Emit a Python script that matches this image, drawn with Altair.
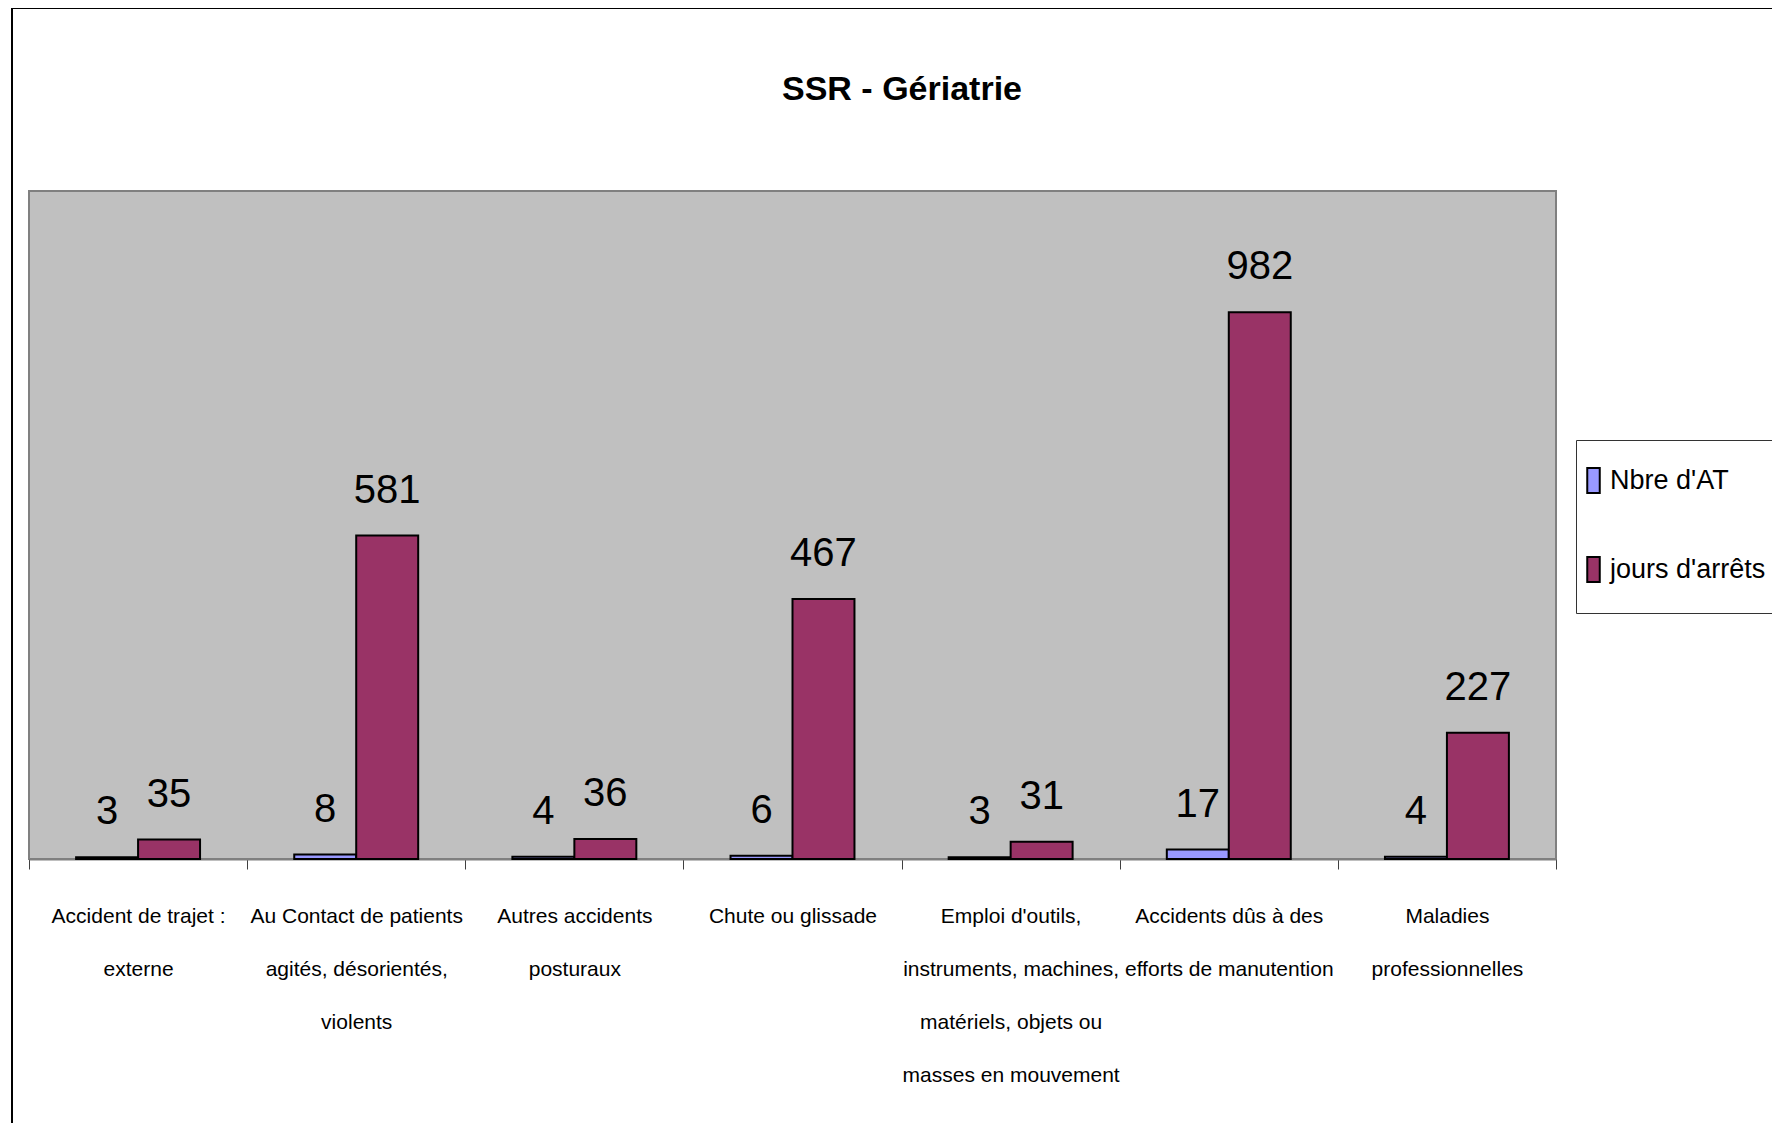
import altair as alt
import pandas as pd

FONT = "Liberation Sans, Arial, sans-serif"

title_text = "SSR - Gériatrie"
categories = [
    "Accident de trajet :\nexterne",
    "Au Contact de patients\nagités, désorientés,\nviolents",
    "Autres accidents\nposturaux",
    "Chute ou glissade",
    "Emploi d'outils,\ninstruments, machines,\nmatériels, objets ou\nmasses en mouvement",
    "Accidents dûs à des\nefforts de manutention",
    "Maladies\nprofessionnelles",
]
series = ["Nbre d'AT", "jours d'arrêts"]
nbre_at = [3, 8, 4, 6, 3, 17, 4]
jours_arrets = [35, 581, 36, 467, 31, 982, 227]
colors = ["#9999FF", "#993366"]

rows = []
for c, a, j in zip(categories, nbre_at, jours_arrets):
    rows.append({"categorie": c, "serie": series[0], "valeur": a})
    rows.append({"categorie": c, "serie": series[1], "valeur": j})
df = pd.DataFrame(rows)

W, H = 1527, 668

base = alt.Chart(df).encode(
    x=alt.X(
        "categorie:N",
        sort=categories,
        scale=alt.Scale(paddingInner=0, paddingOuter=0),
        axis=alt.Axis(
            title=None,
            labelAngle=0,
            labelExpr="split(datum.label, '\\n')",
            labelFont=FONT,
            labelFontSize=21,
            labelColor="black",
            labelPadding=36,
            labelLineHeight=53,
            labelLimit=0,
            labelOverlap=False,
            labelBound=False,
            domainColor="#808080",
            domainWidth=2,
            tickColor="#404040",
            tickSize=10,
            tickWidth=1,
            tickBand="extent",
            grid=False,
        ),
    ),
    xOffset=alt.XOffset(
        "serie:N", sort=series, scale=alt.Scale(paddingInner=0, paddingOuter=0.76)
    ),
    y=alt.Y("valeur:Q", scale=alt.Scale(domain=[0, 1200]), axis=None),
)

bars = base.mark_bar(stroke="black", strokeWidth=2).encode(
    color=alt.Color(
        "serie:N",
        sort=series,
        scale=alt.Scale(domain=series, range=colors),
        legend=alt.Legend(
            title=None,
            orient="none",
            legendX=1547,
            legendY=249,
            padding=27,
            symbolOffset=-23,
            strokeColor="#333333",
            fillColor="white",
            symbolType="M-0.5,-1L0.5,-1L0.5,1L-0.5,1Z",
            symbolSize=625,
            symbolStrokeColor="black",
            symbolStrokeWidth=2,
            symbolOpacity=1,
            labelFont=FONT,
            labelFontSize=27,
            labelColor="black",
            labelOffset=3,
            labelLimit=0,
            rowPadding=56,
        ),
    )
)

labels = base.mark_text(
    baseline="alphabetic", dy=-33, fontSize=40, font=FONT, color="black"
).encode(text="valeur:Q")

title = alt.Chart(alt.Data(values=[{"t": title_text}])).mark_text(
    font=FONT, fontSize=34, fontWeight="bold", color="black",
    align="center", baseline="alphabetic",
).encode(text="t:N", x=alt.value(873), y=alt.value(-91))

frame_data = alt.Data(values=[{"k": 1}])
frame_left = alt.Chart(frame_data).mark_rule(color="black", strokeWidth=2).encode(
    x=alt.value(-17), y=alt.value(-183), y2=alt.value(1100)
)
frame_top = alt.Chart(frame_data).mark_rule(color="black", strokeWidth=2).encode(
    x=alt.value(-17), x2=alt.value(1900), y=alt.value(-183)
)

chart = (
    alt.layer(frame_left, frame_top, title, bars, labels)
    .properties(
        width=W,
        height=H,
        autosize=alt.AutoSizeParams(type="none"),
        padding={"left": 21, "top": 183, "right": 216, "bottom": 264},
    )
    .configure(background="white")
    .configure_view(fill="#C0C0C0", stroke="#808080", strokeWidth=2)
)

chart.save("out.html", embed_options={"renderer": "svg", "actions": False})
